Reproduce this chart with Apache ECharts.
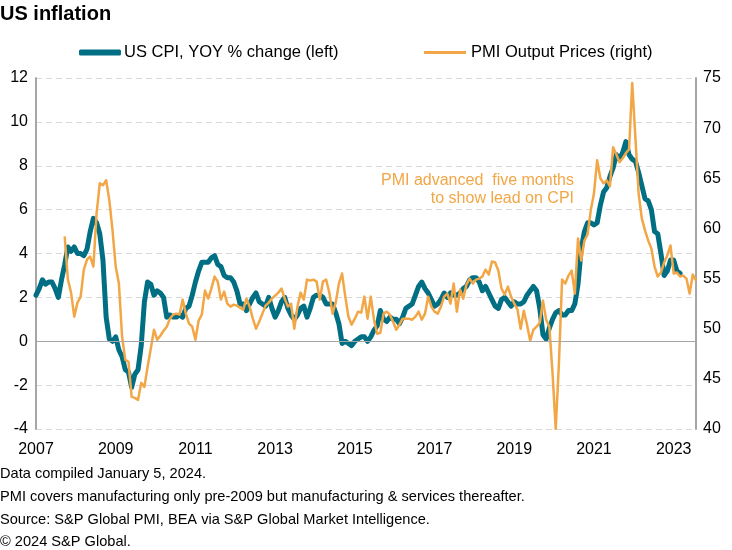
<!DOCTYPE html>
<html>
<head>
<meta charset="utf-8">
<script src="https://cdn.jsdelivr.net/npm/echarts@6/dist/echarts.min.js"></script>
<style>
html,body{margin:0;padding:0;background:#fff;}
#chart{width:732px;height:550px;}
</style>
</head>
<body>
<div id="chart"></div>
<script>
// ---- Data ----
var firstMonth = [2007, 1];   // Jan 2007
var lastMonth = [2024, 4];    // Apr 2024 (axis end)

var cpiStart = '2007-01';
// US CPI, YOY % change (monthly, Jan 2007 - Nov 2023)
var cpiYoy = [
  2.1, 2.4, 2.8, 2.6, 2.7, 2.7, 2.4, 2.0, 2.8, 3.5, 4.3, 4.1,
  4.3, 4.0, 4.0, 3.9, 4.2, 5.0, 5.6, 5.4, 4.9, 3.7, 1.1, 0.1,
  0.0, 0.2, -0.4, -0.7, -1.3, -1.4, -2.1, -1.5, -1.3, -0.2, 1.8, 2.7,
  2.6, 2.1, 2.3, 2.2, 2.0, 1.1, 1.2, 1.1, 1.1, 1.2, 1.1, 1.5,
  1.6, 2.1, 2.7, 3.2, 3.6, 3.6, 3.6, 3.8, 3.9, 3.5, 3.4, 3.0,
  2.9, 2.9, 2.7, 2.3, 1.7, 1.7, 1.4, 1.7, 2.0, 2.2, 1.8, 1.7,
  1.6, 2.0, 1.5, 1.1, 1.4, 1.8, 2.0, 1.5, 1.2, 1.0, 1.2, 1.5,
  1.6, 1.1, 1.5, 2.0, 2.1, 2.1, 2.0, 1.7, 1.7, 1.7, 1.3, 0.8,
  -0.1, 0.0, -0.1, -0.2, 0.0, 0.1, 0.2, 0.2, 0.0, 0.2, 0.5, 0.7,
  1.4, 1.0, 0.9, 1.1, 1.0, 1.0, 0.8, 1.1, 1.5, 1.6, 1.7, 2.1,
  2.5, 2.7, 2.4, 2.2, 1.9, 1.6, 1.7, 1.9, 2.2, 2.0, 2.2, 2.1,
  2.1, 2.2, 2.4, 2.5, 2.8, 2.9, 2.9, 2.7, 2.3, 2.5, 2.2, 1.9,
  1.6, 1.5, 1.9, 2.0, 1.8, 1.6, 1.8, 1.7, 1.7, 1.8, 2.1, 2.3,
  2.5, 2.3, 1.5, 0.3, 0.1, 0.6, 1.0, 1.3, 1.4, 1.2, 1.2, 1.4,
  1.4, 1.7, 2.6, 4.2, 5.0, 5.4, 5.4, 5.3, 5.4, 6.2, 6.8, 7.0,
  7.5, 7.9, 8.5, 8.3, 8.6, 9.1, 8.5, 8.3, 8.2, 7.7, 7.1, 6.5,
  6.4, 6.0, 5.0, 4.9, 4.0, 3.0, 3.2, 3.7, 3.7, 3.2, 3.1
];

var pmiStart = '2007-10';
// PMI Output Prices index, advanced five months (plotted Oct 2007 - Apr 2024)
var pmiOutputPrices = [
  59.2, 54.9, 53.6,
  51.2, 52.6, 53.2, 55.9, 56.9, 57.2, 56.2, 61.5, 64.5, 64.3, 64.8, 62.8,
  59.8, 56.2, 54.5, 49.2, 46.9, 46.7, 43.2, 43.1, 42.9, 44.6, 44.2, 46.2,
  48.0, 49.9, 48.9, 49.3, 49.8, 50.2, 51.0, 51.4, 51.5, 51.4, 52.9, 51.5,
  50.5, 50.2, 48.9, 50.8, 51.4, 53.8, 53.0, 54.0, 55.2, 54.7, 52.9, 53.7,
  52.5, 52.2, 52.4, 52.3, 52.1, 51.9, 53.0, 52.2, 51.0, 50.0, 50.7, 51.5,
  52.3, 52.6, 53.0, 53.3, 53.6, 54.0, 53.0, 52.2, 52.5, 50.0, 52.2, 53.6,
  52.9, 54.9, 54.8, 54.9, 54.7, 52.9, 54.7, 54.9, 53.6, 51.5, 52.6, 54.5,
  55.5, 53.2, 51.2, 50.4, 51.0, 51.7, 51.6, 53.2, 51.0, 53.2, 50.9, 49.5,
  49.6, 51.5, 51.7, 51.4, 50.7, 49.9, 50.4, 51.0, 51.0, 51.0, 50.9, 51.2,
  51.7, 50.9, 51.5, 53.2, 52.2, 51.7, 51.5, 52.2, 53.2, 53.5, 52.5, 54.5,
  51.7, 53.9, 53.0, 54.4, 55.0, 54.5, 54.9, 55.0, 55.2, 55.9, 55.4, 56.7,
  56.6, 55.8, 54.0, 53.4, 54.2, 53.2, 52.5, 51.9, 50.0, 51.8, 50.4, 48.8,
  49.9, 50.2, 50.6, 52.8, 50.9, 50.2, 45.6, 40.0, 46.5, 54.9, 54.5, 55.3,
  55.8, 53.5, 59.0, 56.8, 58.8, 59.4, 61.8, 63.5, 66.8, 65.0, 64.5, 64.8,
  64.2, 68.1, 67.4, 66.6, 67.0, 67.5, 67.9, 74.5, 69.0, 63.5, 61.0, 59.8,
  58.8, 58.0, 56.2, 55.2, 55.6, 56.6, 57.3, 58.3, 55.5, 55.6, 55.2, 55.3,
  55.0, 53.5, 55.4, 54.8
];

var leftTicks = { min: -4, max: 12, step: 2 };
var rightTicks = { min: 40, max: 75, step: 5 };
var tickYearsEvery = 25; // one year label every 25 months (2007, 2009, ... 2023)

var seriesNames = ['US CPI, YOY % change (left)', 'PMI Output Prices (right)'];
var titleText = 'US inflation';
var noteText = ['PMI advanced  five months', 'to show lead on CPI'];
var footnotes = [
  'Data compiled January 5, 2024.',
  'PMI covers manufacturing only pre-2009 but manufacturing & services thereafter.',
  'Source: S&P Global PMI, BEA via S&P Global Market Intelligence.',
  '\u00a9 2024 S&P Global.'
];

// ---- Build categories (months) ----
function pad(n){ return (n < 10 ? '0' : '') + n; }
var months = [];
for (var y = firstMonth[0], m = firstMonth[1]; y < lastMonth[0] || (y === lastMonth[0] && m <= lastMonth[1]); ) {
  months.push(y + '-' + pad(m));
  m++; if (m > 12) { m = 1; y++; }
}
function alignTo(startKey, values) {
  var out = months.map(function(){ return null; });
  var s = months.indexOf(startKey);
  for (var i = 0; i < values.length; i++) { if (s + i < out.length) out[s + i] = values[i]; }
  return out;
}
var cpiData = alignTo(cpiStart, cpiYoy);
var pmiData = alignTo(pmiStart, pmiOutputPrices);

var TEAL = '#006e83';
var ORANGE = '#f2a645';
var FONT = '"Liberation Sans", Arial, sans-serif';

var chart = echarts.init(document.getElementById('chart'), null, { renderer: 'canvas' });
chart.setOption({
  animation: false,
  backgroundColor: '#ffffff',
  textStyle: { fontFamily: FONT, color: '#000' },
  title: {
    text: titleText, left: 0, top: 4, padding: 0,
    textStyle: { fontFamily: FONT, fontSize: 20, fontWeight: 'bold', color: '#000' }
  },
  legend: [
    {
      data: [{ name: seriesNames[0], icon: 'roundRect' }],
      left: 79, top: 44, padding: 0, itemWidth: 42, itemHeight: 6, itemGap: 10,
      textStyle: { fontFamily: FONT, fontSize: 16.5, color: '#000', padding: [0,0,0,-2] }
    },
    {
      data: [{ name: seriesNames[1], icon: 'rect' }],
      left: 424, top: 44, padding: 0, itemWidth: 42, itemHeight: 3, itemGap: 10,
      textStyle: { fontFamily: FONT, fontSize: 16.5, color: '#000', padding: [0,0,0,0] }
    }
  ],
  grid: { left: 36, right: 36, top: 78, bottom: 121, containLabel: false },
  xAxis: {
    type: 'category', data: months, boundaryGap: false,
    axisLine: { show: false }, axisTick: { show: false },
    splitLine: { show: false },
    axisLabel: {
      interval: function(idx){ return idx % tickYearsEvery === 0; },
      hideOverlap: false, margin: 13,
      fontFamily: FONT, fontSize: 16, color: '#000',
      formatter: function(v){ return v.slice(0, 4); }
    }
  },
  yAxis: [
    {
      type: 'value', min: leftTicks.min, max: leftTicks.max, interval: leftTicks.step,
      position: 'left',
      axisLine: { show: true, lineStyle: { color: '#a6a6a6', width: 2 } },
      axisTick: { show: false },
      axisLabel: { fontFamily: FONT, fontSize: 16, color: '#000', margin: 8 },
      splitLine: { show: true, lineStyle: { color: '#d9d9d9', width: 1, type: [6, 4] } }
    },
    {
      type: 'value', min: rightTicks.min, max: rightTicks.max, interval: rightTicks.step,
      position: 'right',
      axisLine: { show: true, lineStyle: { color: '#a6a6a6', width: 2 } },
      axisTick: { show: false },
      axisLabel: { fontFamily: FONT, fontSize: 16, color: '#000', margin: 7 },
      splitLine: { show: false }
    }
  ],
  series: [
    {
      name: 'zero', type: 'line', data: [], yAxisIndex: 0, z: 1, silent: true,
      markLine: {
        silent: true, symbol: ['none', 'none'], label: { show: false },
        lineStyle: { color: '#a6a6a6', width: 1, type: 'solid' },
        data: [{ yAxis: 0 }]
      }
    },
    {
      name: seriesNames[0], type: 'line', data: cpiData, yAxisIndex: 0, z: 2,
      showSymbol: false, connectNulls: false,
      itemStyle: { color: TEAL },
      lineStyle: { color: TEAL, width: 5, join: 'round', cap: 'round' }
    },
    {
      name: seriesNames[1], type: 'line', data: pmiData, yAxisIndex: 1, z: 3,
      showSymbol: false, connectNulls: false,
      itemStyle: { color: ORANGE },
      lineStyle: { color: ORANGE, width: 2.5, join: 'round' }
    }
  ],
  graphic: [
    {
      type: 'text', right: 732 - 574, top: 172, z: 10,
      style: {
        text: noteText.join('\n'), fill: ORANGE, font: '16px ' + FONT,
        textAlign: 'right', lineHeight: 18
      }
    },
    { type: 'text', left: 0, top: 466, style: { text: footnotes[0], fill: '#000', font: '14.6px ' + FONT } },
    { type: 'text', left: 0, top: 489, style: { text: footnotes[1], fill: '#000', font: '14.6px ' + FONT } },
    { type: 'text', left: 0, top: 512, style: { text: footnotes[2], fill: '#000', font: '14.6px ' + FONT } },
    { type: 'text', left: 0, top: 534, style: { text: footnotes[3], fill: '#000', font: '14.6px ' + FONT } }
  ]
});
</script>
</body>
</html>
